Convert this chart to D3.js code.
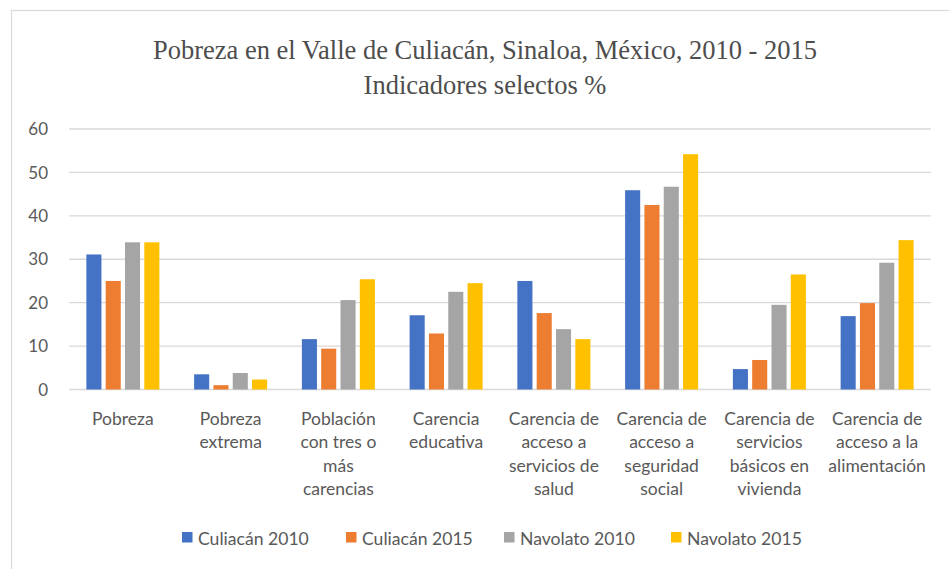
<!DOCTYPE html>
<html><head><meta charset="utf-8">
<script src="https://cdn.jsdelivr.net/npm/d3@7"></script>
<style>body{margin:0;background:#fff;}svg{display:block;}</style>
</head><body>
<svg id="chart" width="949" height="569"></svg>
<script>
const categories = ["Pobreza","Pobreza extrema","Población con tres o más carencias","Carencia educativa","Carencia de acceso a servicios de salud","Carencia de acceso a seguridad social","Carencia de servicios básicos en vivienda","Carencia de acceso a la alimentación"];
const categoryLines = [["Pobreza"],["Pobreza","extrema"],["Población","con tres o","más","carencias"],["Carencia","educativa"],["Carencia de","acceso a","servicios de","salud"],["Carencia de","acceso a","seguridad","social"],["Carencia de","servicios","básicos en","vivienda"],["Carencia de","acceso a la","alimentación"]];
const seriesNames = ["Culiacán 2010","Culiacán 2015","Navolato 2010","Navolato 2015"];
const culiacan2010 = [31.1, 3.5, 11.6, 17.1, 25.0, 45.9, 4.7, 16.9];
const culiacan2015 = [25.0, 1.0, 9.4, 12.9, 17.6, 42.5, 6.8, 19.9];
const navolato2010 = [33.9, 3.8, 20.6, 22.5, 13.9, 46.7, 19.5, 29.2];
const navolato2015 = [33.9, 2.3, 25.4, 24.5, 11.6, 54.2, 26.5, 34.4];
const yTicks = [0,10,20,30,40,50,60];
const colors = ["#4472C4","#ED7D31","#A5A5A5","#FFC000"];
const titleLines = ["Pobreza en el Valle de Culiacán, Sinaloa, México, 2010 - 2015","Indicadores selectos %"];

const seriesValues = [culiacan2010, culiacan2015, navolato2010, navolato2015];
const svg = d3.select("#chart");

// chart frame
svg.append("rect").attr("x",11.5).attr("y",10.5).attr("width",960).attr("height",600)
  .attr("fill","#fff").attr("stroke","#d9d9d9").attr("stroke-width",1.2);

const x0 = d3.scaleBand().domain(categories).range([69,931]).paddingInner(0.283).paddingOuter(0.1415);
const x1 = d3.scaleBand().domain(seriesNames).range([0,x0.bandwidth()]).paddingInner(0.22).paddingOuter(0.11);
const y = d3.scaleLinear().domain([0,60]).range([389.5,129]);

// gridlines
svg.append("g").selectAll("line").data(yTicks).join("line")
  .attr("x1",69).attr("x2",931).attr("y1",d=>y(d)).attr("y2",d=>y(d))
  .attr("stroke","#d9d9d9").attr("stroke-width",1.3);

// y labels
svg.append("g").selectAll("text").data(yTicks).join("text")
  .attr("x",48).attr("y",d=>y(d)).attr("dy","0.36em").attr("text-anchor","end")
  .attr("font-family","Lato, 'Open Sans', sans-serif").attr("font-size",17).attr("fill","#595959")
  .text(d=>d);

// bars
const groups = svg.append("g").selectAll("g").data(categories).join("g")
  .attr("transform",d=>`translate(${x0(d)},0)`);
groups.selectAll("rect").data((c,i)=>seriesNames.map((s,j)=>({s, v: seriesValues[j][i], j})))
  .join("rect")
  .attr("x",d=>x1(d.s)).attr("width",x1.bandwidth())
  .attr("y",d=>y(d.v)).attr("height",d=>y(0)-y(d.v))
  .attr("fill",d=>colors[d.j]);

// category labels
const lab = svg.append("g").selectAll("text").data(categories).join("text")
  .attr("text-anchor","middle").attr("font-family","Lato, 'Open Sans', sans-serif")
  .attr("font-size",17.5).attr("fill","#595959")
  .attr("transform",d=>`translate(${x0(d)+x0.bandwidth()/2},425)`);
lab.selectAll("tspan").data((d,i)=>categoryLines[i]).join("tspan")
  .attr("x",0).attr("y",(d,k)=>k*23.3).text(d=>d);

// title
svg.append("g").selectAll("text").data(titleLines).join("text")
  .attr("x",485).attr("y",(d,i)=>59.3+i*34.5).attr("text-anchor","middle")
  .attr("font-family","'Liberation Serif', 'Times New Roman', serif").attr("font-size",26.5)
  .attr("fill","#4d4d4d").text(d=>d);

// legend
const legendX = [182, 346, 504, 671];
const leg = svg.append("g").selectAll("g").data(seriesNames).join("g")
  .attr("transform",(d,i)=>`translate(${legendX[i]},532)`);
leg.append("rect").attr("width",10.5).attr("height",10.5).attr("fill",(d,i)=>colors[i]);
leg.append("text").attr("x",16).attr("y",13).attr("font-family","Lato, 'Open Sans', sans-serif")
  .attr("font-size",17.6).attr("fill","#595959").text(d=>d);
</script>
</body></html>
